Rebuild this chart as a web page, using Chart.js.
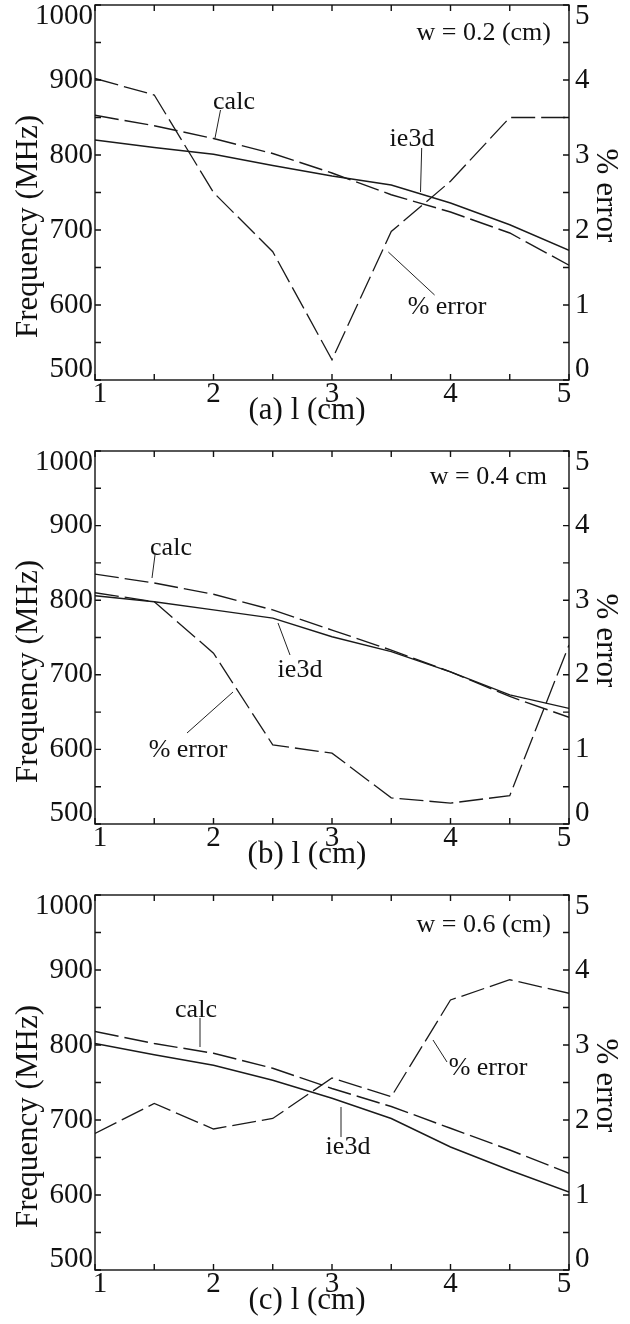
<!DOCTYPE html>
<html>
<head>
<meta charset="utf-8">
<script src="https://cdn.jsdelivr.net/npm/chart.js@4"></script>
<style>
  body { margin: 0; background: #fff; }
  .wrap { position: relative; width: 630px; height: 1324px; }
  canvas { position: absolute; left: 0; }
</style>
</head>
<body>
<div class="wrap">
  <canvas id="panelA" width="630" height="440" style="top:0"></canvas>
  <canvas id="panelB" width="630" height="440" style="top:440px"></canvas>
  <canvas id="panelC" width="630" height="444" style="top:880px"></canvas>
</div>
<script>
// l (cm)
const lengths = [1, 1.5, 2, 2.5, 3, 3.5, 4, 4.5, 5];

// (a) w = 0.2 cm
const ie3dA = [820, 810, 801, 786, 772, 760, 736, 707, 673];
const calcA = [853, 839, 822, 802, 776, 747, 724, 696, 653];
const errA = [4.02, 3.8, 2.5, 1.71, 0.27, 1.98, 2.65, 3.5, 3.5];

// (b) w = 0.4 cm
const ie3dB = [806, 798, 787, 776, 751, 731, 704, 673, 655];
const calcB = [835, 823, 808, 787, 760, 733, 704, 671, 643];
const errB = [3.1, 2.98, 2.29, 1.06, 0.95, 0.35, 0.28, 0.38, 2.4];

// (c) w = 0.6 cm
const ie3dC = [802, 787, 773, 753, 729, 702, 664, 633, 604];
const calcC = [818, 802, 789, 769, 742, 718, 689, 660, 629];
const errC = [1.82, 2.22, 1.88, 2.02, 2.56, 2.31, 3.6, 3.87, 3.69];

const freqRange = [500, 1000];
const errRange = [0, 5];

Chart.defaults.font.family = "'Liberation Serif', 'Times New Roman', serif";
Chart.defaults.color = '#111';

const INK = '#1a1a1a';
const DASH = [24, 6];

const toPoints = (ys) => lengths.map((x, i) => ({ x, y: ys[i] }));

// nudge the outermost tick labels inward like the original plot
const edgeLabels = {
  id: 'edgeLabels',
  beforeDraw(chart) {
    ['x', 'y', 'y1'].forEach(id => {
      const scale = chart.scales[id];
      const items = scale.getLabelItems().filter(it => it.label !== '');
      if (!items.length || items[0]._nudged) return;
      const k = id === 'x' ? 0 : 1;
      let lo = items[0], hi = items[0];
      items.forEach(it => {
        if (it.options.translation[k] < lo.options.translation[k]) lo = it;
        if (it.options.translation[k] > hi.options.translation[k]) hi = it;
      });
      const d = id === 'x' ? 5 : 11;
      lo.options.translation[k] += d;
      hi.options.translation[k] -= d;
      items.forEach(it => { it._nudged = true; });
    });
  }
};

function makeDecor(p) {
  return {
    id: 'decor',
    afterDraw(chart) {
      const { ctx, chartArea: a, scales: { x, y, y1 } } = chart;
      ctx.save();
      ctx.strokeStyle = '#111';
      ctx.lineWidth = 1.4;
      ctx.strokeRect(a.left, a.top, a.right - a.left, a.bottom - a.top);

      // inward tick marks
      ctx.beginPath();
      x.ticks.forEach(t => {
        const px = x.getPixelForValue(t.value);
        ctx.moveTo(px, a.bottom); ctx.lineTo(px, a.bottom - 6);
        ctx.moveTo(px, a.top); ctx.lineTo(px, a.top + 6);
      });
      y.ticks.forEach(t => {
        const py = y.getPixelForValue(t.value);
        ctx.moveTo(a.left, py); ctx.lineTo(a.left + 6, py);
      });
      y1.ticks.forEach(t => {
        const py = y1.getPixelForValue(t.value);
        ctx.moveTo(a.right, py); ctx.lineTo(a.right - 6, py);
      });
      ctx.stroke();

      // leader lines
      ctx.lineWidth = 1;
      ctx.strokeStyle = '#222';
      ctx.beginPath();
      p.leaders.forEach(([x0, y0, x1, y1_]) => {
        ctx.moveTo(a.left + x0, a.top + y0);
        ctx.lineTo(a.left + x1, a.top + y1_);
      });
      ctx.stroke();

      // annotations
      ctx.fillStyle = '#111';
      ctx.textBaseline = 'middle';
      ctx.font = "26px 'Liberation Serif', serif";
      ctx.textAlign = 'right';
      ctx.fillText(p.wLabel, a.left + p.wPos[0], a.top + p.wPos[1]);
      ctx.textAlign = 'center';
      p.notes.forEach(([txt, nx, ny]) => ctx.fillText(txt, a.left + nx, a.top + ny));

      // axis titles and caption
      const midY = (a.top + a.bottom) / 2;
      ctx.font = "31px 'Liberation Serif', serif";
      ctx.fillText(p.caption, 307, a.bottom + 31);

      ctx.save();
      ctx.translate(29, midY + 34);
      ctx.rotate(-Math.PI / 2);
      ctx.fillText('Frequency (MHz)', 0, 0);
      ctx.restore();

      ctx.save();
      ctx.translate(605, midY + 3);
      ctx.rotate(Math.PI / 2);
      ctx.fillText('% error', 0, 0);
      ctx.restore();

      ctx.restore();
    }
  };
}

function makePanel(canvasId, ie3d, calc, err, p) {
  const canvas = document.getElementById(canvasId);
  const H = canvas.height;
  return new Chart(canvas, {
    type: 'line',
    data: {
      datasets: [
        { label: 'ie3d', data: toPoints(ie3d), yAxisID: 'y', borderColor: INK, borderWidth: 1.4 },
        { label: 'calc', data: toPoints(calc), yAxisID: 'y', borderColor: INK, borderWidth: 1.4, borderDash: DASH },
        { label: '% error', data: toPoints(err), yAxisID: 'y1', borderColor: INK, borderWidth: 1.3, borderDash: DASH }
      ]
    },
    options: {
      responsive: false,
      animation: false,
      events: [],
      layout: { padding: { top: p.top, left: 0, right: 0, bottom: 0 } },
      elements: { point: { radius: 0 }, line: { tension: 0 } },
      plugins: { legend: { display: false }, tooltip: { enabled: false } },
      scales: {
        x: {
          type: 'linear',
          min: lengths[0],
          max: lengths[lengths.length - 1],
          grid: { display: false, drawTicks: false },
          border: { display: false },
          ticks: {
            stepSize: 0.5, autoSkip: false, maxRotation: 0, padding: -3,
            font: { size: 29 },
            callback: v => Number.isInteger(v) ? v : ''
          },
          afterFit: s => { s.height = H - p.bottom; s.paddingLeft = 0; s.paddingRight = 0; }
        },
        y: {
          position: 'left',
          min: freqRange[0],
          max: freqRange[1],
          grid: { display: false, drawTicks: false },
          border: { display: false },
          ticks: {
            stepSize: 50, autoSkip: false, padding: 2,
            font: { size: 29 },
            callback: v => v % 100 === 0 ? v : ''
          },
          afterFit: s => { s.width = 95; s.paddingTop = 0; s.paddingBottom = 0; }
        },
        y1: {
          position: 'right',
          min: errRange[0],
          max: errRange[1],
          grid: { display: false, drawTicks: false },
          border: { display: false },
          ticks: {
            stepSize: 0.5, autoSkip: false, padding: 6,
            font: { size: 29 },
            callback: v => Number.isInteger(v) ? v : ''
          },
          afterFit: s => { s.width = 61; s.paddingTop = 0; s.paddingBottom = 0; }
        }
      }
    },
    plugins: [edgeLabels, makeDecor(p)]
  });
}

makePanel('panelA', ie3dA, calcA, errA, {
  top: 5, bottom: 380,
  caption: '(a) l (cm)',
  wLabel: 'w = 0.2 (cm)', wPos: [456, 28.5],
  notes: [['calc', 139, 97], ['ie3d', 317, 134], ['% error', 352, 302]],
  leaders: [[125.5, 105, 120, 133], [326.7, 143, 325.5, 187], [339.6, 290, 293.3, 247]]
});

makePanel('panelB', ie3dB, calcB, errB, {
  top: 11, bottom: 384,
  caption: '(b) l (cm)',
  wLabel: 'w = 0.4 cm', wPos: [452, 26],
  notes: [['calc', 76, 97], ['ie3d', 205, 219], ['% error', 93, 299]],
  leaders: [[60, 104, 57, 127], [195, 204, 183, 172], [92, 282, 138, 241]]
});

makePanel('panelC', ie3dC, calcC, errC, {
  top: 15, bottom: 390,
  caption: '(c) l (cm)',
  wLabel: 'w = 0.6 (cm)', wPos: [456, 30.5],
  notes: [['calc', 101, 115], ['ie3d', 253, 252], ['% error', 393, 173]],
  leaders: [[105, 123, 105, 152], [246, 212, 246, 242], [338, 145, 352, 167]]
});
</script>
</body>
</html>
